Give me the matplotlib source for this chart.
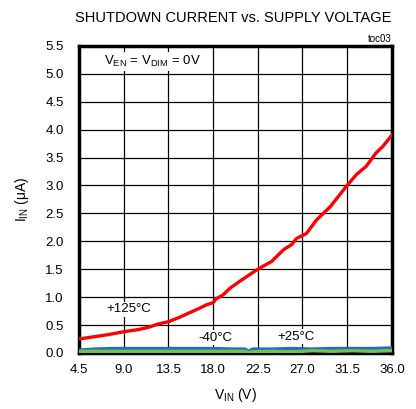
import matplotlib
matplotlib.use('Agg')
import matplotlib.pyplot as plt

plt.rcParams['font.family'] = ['Liberation Sans', 'DejaVu Sans']

# +125C curve
vin_hot = [4.5, 6.0, 7.5, 9.0, 10.5, 11.5, 12.5, 13.5, 14.5, 15.5, 16.5, 17.3, 18.0, 18.3,
           19.0, 19.7, 20.9, 22.5, 23.9, 25.1, 25.9, 26.4, 27.4, 28.4, 29.8, 31.4,
           32.4, 33.4, 34.4, 35.1, 36.0]
i_hot = [0.25, 0.29, 0.33, 0.38, 0.42, 0.46, 0.52, 0.56, 0.63, 0.71, 0.79, 0.86, 0.90, 0.97,
         1.04, 1.16, 1.31, 1.50, 1.64, 1.85, 1.94, 2.05, 2.14, 2.38, 2.62, 2.98,
         3.19, 3.34, 3.58, 3.70, 3.90]

# -40C and +25C curves
vin_low = [4.5, 6.0, 8.0, 10.0, 12.0, 14.0, 16.0, 18.0, 20.0, 21.2, 21.6, 22.0, 24.0,
           26.0, 28.0, 30.0, 32.0, 34.0, 36.0]
i_cold = [0.05, 0.07, 0.08, 0.08, 0.08, 0.08, 0.08, 0.08, 0.07, 0.07, 0.03, 0.07, 0.07,
          0.08, 0.07, 0.08, 0.08, 0.08, 0.09]
i_room = [0.03, 0.03, 0.03, 0.03, 0.03, 0.03, 0.03, 0.03, 0.03, 0.03, 0.01, 0.02, 0.03,
          0.02, 0.04, 0.03, 0.04, 0.03, 0.04]
i_black = [0.005, 0.005, 0.005, 0.005, 0.005, 0.005, 0.005, 0.005, 0.005, 0.005, 0.0, 0.005,
           0.01, 0.01, 0.01, 0.01, 0.01, 0.01, 0.01]

xticks = [4.5, 9.0, 13.5, 18.0, 22.5, 27.0, 31.5, 36.0]
yticks = [0.0, 0.5, 1.0, 1.5, 2.0, 2.5, 3.0, 3.5, 4.0, 4.5, 5.0, 5.5]

fig = plt.figure(figsize=(4.16, 4.09), dpi=100)
ax = fig.add_axes([0.19, 0.137, 0.752, 0.751])

ax.plot(vin_low, i_black, color='black', lw=2.2, zorder=3)
ax.plot(vin_low, i_cold, color='#1f6fc4', lw=2.4, zorder=3)
ax.plot(vin_low, i_room, color='#7ac143', lw=2.4, zorder=4)
ax.plot(vin_hot, i_hot, color='#ff0000', lw=2.4, zorder=5)

ax.set_xlim(4.5, 36.0)
ax.set_ylim(0.0, 5.5)
ax.set_xticks(xticks)
ax.set_yticks(yticks)
ax.set_xticklabels(['%.1f' % v for v in xticks], fontsize=9.5)
ax.set_yticklabels(['%.1f' % v for v in yticks], fontsize=9.5)
ax.tick_params(axis='x', length=0, pad=8)
ax.tick_params(axis='y', length=0, pad=11)
ax.grid(True, color='black', lw=0.9)
ax.set_axisbelow(True)
for s in ax.spines.values():
    s.set_linewidth(2.5)

ax.set_xlabel('V$_{\\mathregular{IN}}$ (V)', fontsize=10, labelpad=7)
ax.set_ylabel('I$_{\\mathregular{IN}}$ ($\\mathregular{\\mu}$A)', fontsize=10, labelpad=10)

ax.text(7.0, 5.22, 'V$_{\\mathregular{EN}}$ = V$_{\\mathregular{DIM}}$ = 0V', fontsize=9.5,
        va='center', bbox=dict(facecolor='white', edgecolor='none', pad=1.5), zorder=6)
ax.text(7.3, 0.78, '+125°C', fontsize=9.5, va='center',
        bbox=dict(facecolor='white', edgecolor='none', pad=1), zorder=6)
ax.text(16.5, 0.27, '-40°C', fontsize=9.5, va='center',
        bbox=dict(facecolor='white', edgecolor='none', pad=1), zorder=6)
ax.text(24.5, 0.29, '+25°C', fontsize=9.5, va='center',
        bbox=dict(facecolor='white', edgecolor='none', pad=1), zorder=6)

fig.text(0.56, 0.955, 'SHUTDOWN CURRENT vs. SUPPLY VOLTAGE', fontsize=10.5,
         ha='center', va='center')
fig.text(0.942, 0.905, 'toc03', fontsize=7, ha='right', va='center')

fig.savefig('out.png', dpi=100)
